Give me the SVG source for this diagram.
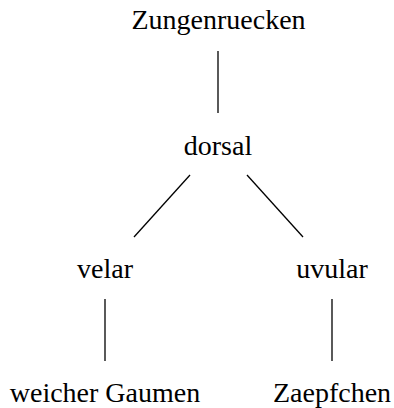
<svg xmlns="http://www.w3.org/2000/svg" width="394" height="408" viewBox="0 0 394 408">
<style>
text{font-family:"Liberation Serif","Times New Roman",serif;font-size:28px;fill:#000;text-anchor:middle}
line{stroke:#000;stroke-width:1.3}
</style>
<rect width="394" height="408" fill="#fff"/>
<g id="connectors">
<line x1="218" y1="51" x2="218" y2="113"/>
<line x1="190" y1="175" x2="134" y2="237"/>
<line x1="247" y1="175" x2="303" y2="237"/>
<line x1="105" y1="299" x2="105" y2="361"/>
<line x1="332" y1="299" x2="332" y2="361"/>
</g>
<g id="n-zungenruecken"><text x="218.5" y="29">Zungenruecken</text></g>
<g id="n-dorsal"><text x="218" y="155">dorsal</text></g>
<g id="n-velar"><text x="105" y="278">velar</text></g>
<g id="n-uvular"><text x="332" y="278">uvular</text></g>
<g id="n-weicher"><text x="105" y="402">weicher Gaumen</text></g>
<g id="n-zaepfchen"><text x="332" y="402">Zaepfchen</text></g>
</svg>
